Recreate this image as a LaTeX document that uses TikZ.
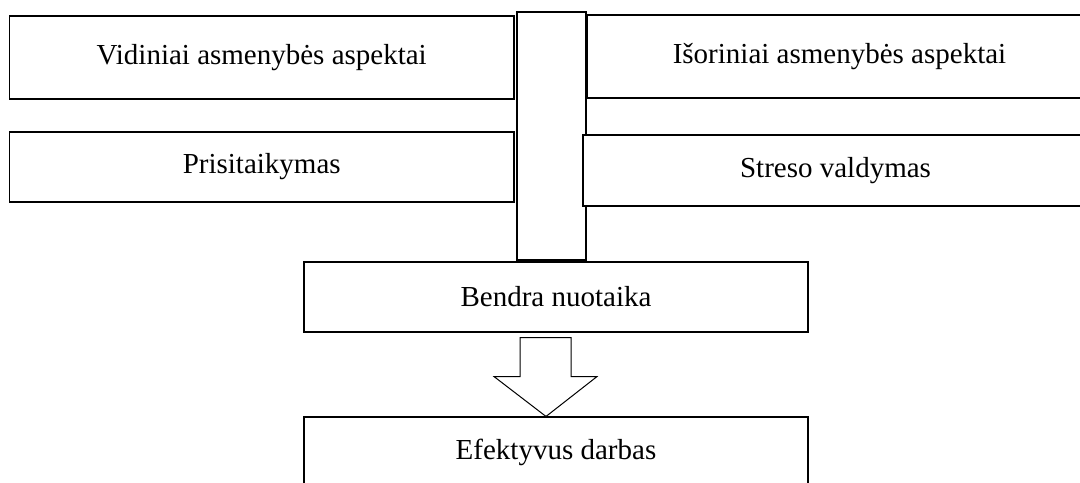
\documentclass[tikz,border=0pt]{standalone}
\usepackage{fontspec}
\setmainfont{Liberation Serif}
\usetikzlibrary{calc}
\begin{document}
\begin{tikzpicture}[x = 0.5pt, y = -0.5pt,
	langelis/.style = {draw = black, line width = 0.55pt, fill = white, inner sep = 0pt, font = \fontsize{14.5}{17}\selectfont},
	rodykle/.style = {draw = black, line width = 0.5pt, fill = white, line join = miter}]
	\useasboundingbox (0, 0) rectangle (1080, 482);
	\clip (0, 0) rectangle (1080, 482);
	\fill[white] (0, 0) rectangle (1080, 482);
	\node[langelis, minimum width = 34.5pt, minimum height = 124pt] (juosta) at (551.5, 136) {};
	\foreach \vardas/\x/\y/\w/\h/\tekstas in {vidiniai/261.75/57.5/252.25/41.5/Vidiniai asmenybės aspektai, isoriniai/839.5/56.5/252.5/41.5/Išoriniai asmenybės aspektai, prisit/261.75/167/252.25/35/Prisitaikymas, streso/835.5/170.5/252.5/35.5/Streso valdymas, bendra/556/297/252/35/Bendra nuotaika, efekt/556/452/252/35/Efektyvus darbas}{
		\node[langelis, minimum width = \w pt, minimum height = \h pt] (\vardas) at (\x, \y) {\tekstas};}
	\coordinate (smaigalys) at ($(efekt.north) + (-10, 0)$);
	\draw[rodykle] ($(bendra.south) + (-36, 5)$) coordinate (kotas) -- ++(51, 0) -- ++(0, 39) -- ++(26, 0) -- (smaigalys) -- ($(kotas) + (-26, 39)$) -- ($(kotas) + (0, 39)$) -- cycle;
\end{tikzpicture}
\end{document}
